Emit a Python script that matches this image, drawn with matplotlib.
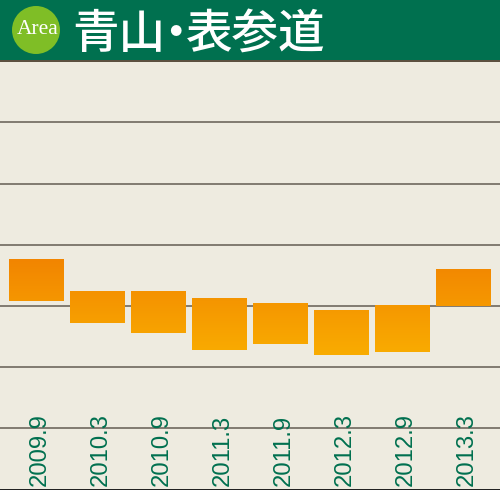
import numpy as np
import matplotlib
matplotlib.use("Agg")
import matplotlib.pyplot as plt
from matplotlib.colors import LinearSegmentedColormap, Normalize
from matplotlib.patches import Circle, Rectangle

periods = ["2009.9", "2010.3", "2010.9", "2011.3", "2011.9", "2012.3", "2012.9", "2013.3"]
highs = [7.6, 2.4, 2.4, 1.25, 0.45, -0.75, 0.15, 6.0]
lows = [0.8, -2.8, -4.4, -7.2, -6.2, -8.0, -7.5, 0.0]
grid_levels = [-20, -10, 0, 10, 20, 30]
title_parts = ["青山", "・", "表参道"]
title_left = [72, 175.5, 186]
title_align = ["left", "center", "left"]

bg = "#EEEBE0"
green = "#00704F"

fig = plt.figure(figsize=(5, 4.9), dpi=100, facecolor=bg)
# axes run over the whole figure, the header is painted on top
ax = fig.add_axes([0, 0, 1, 1], facecolor=bg)

x = np.arange(len(periods))
ax.set_yticks(grid_levels)
ax.grid(axis="y", color="#6E675E", lw=1.2)
ax.set_axisbelow(True)
ax.tick_params(left=False, bottom=False, labelleft=False, labelbottom=False)
for s in ax.spines.values():
    s.set_visible(False)

width = 54.5 / 61
bars = ax.bar(x, np.array(highs) - np.array(lows), width, bottom=lows, color="#F49A00", zorder=2)

# the orange fades with height, same scale for all bars
cmap = LinearSegmentedColormap.from_list("bar", ["#F9AC00", "#F28500"])
norm = Normalize(min(lows), max(highs))
for b, hi, lo in zip(bars, highs, lows):
    grad = np.linspace(hi, lo, 64).reshape(-1, 1)
    ax.imshow(grad, cmap=cmap, norm=norm, aspect="auto", zorder=3,
              extent=[b.get_x(), b.get_x() + b.get_width(), lo, hi])
ax.set_xlim(-36.5 / 61, (500 - 36.5) / 61)
ax.set_ylim((306 - 490) / 6.12, 306 / 6.12)

for xi, p in zip(x, periods):
    ax.annotate(p, (xi, 0), xycoords=ax.get_xaxis_transform(), xytext=(2, 2.9),
                textcoords="offset points", rotation=90, ha="center", va="bottom",
                color=green, fontsize=17.2, family="Liberation Sans", zorder=4)

# header band
fig.add_artist(Rectangle((0, 1 - 60 / 490), 1, 60 / 490, transform=fig.transFigure, color=green, lw=0))
fig.add_artist(Rectangle((0, 1 - 62 / 490), 1, 2 / 490, transform=fig.transFigure, color="#5C5040", lw=0))
fig.add_artist(Rectangle((0, 0), 1, 1 / 490, transform=fig.transFigure, color="#222222", lw=0))
fig.add_artist(Circle((36, 490 - 30), 24, transform=None, color="#7FBE26", lw=0))
fig.text(37.5 / 500, 1 - 30 / 490, "Area", color="white", fontsize=15.5, family="Liberation Serif",
         ha="center", va="center")
for part, left, align in zip(title_parts, title_left, title_align):
    fig.text(left / 500, 1 - 34 / 490, part, color="white", fontsize=33.5, family="Noto Sans CJK JP",
             weight="medium", ha=align, va="center")

fig.savefig("out.png", dpi=100, facecolor=bg)
